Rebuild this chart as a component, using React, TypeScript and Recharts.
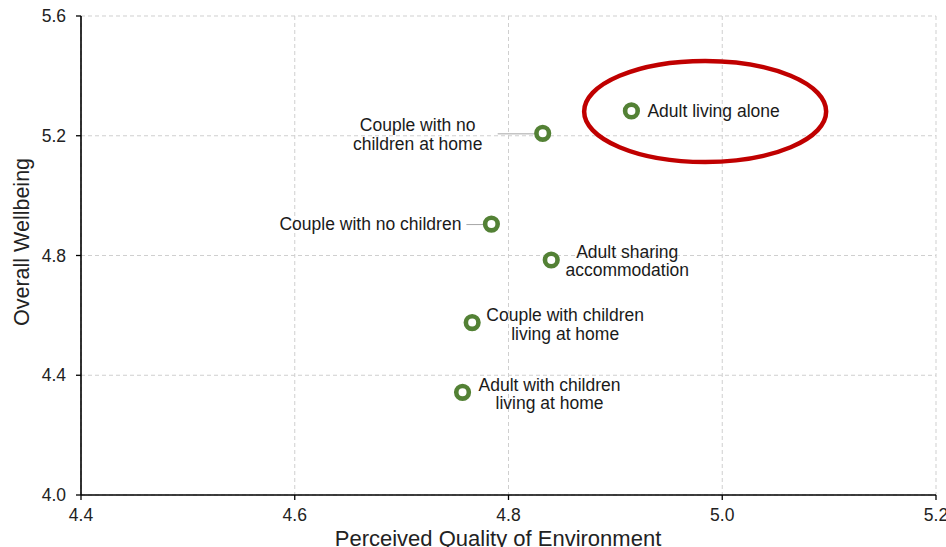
import React from 'react';
import { ScatterChart, Scatter, XAxis, YAxis, CartesianGrid, ReferenceDot, Label } from 'recharts';

const categories = [
  'Adult living alone',
  'Couple with no children at home',
  'Couple with no children',
  'Adult sharing accommodation',
  'Couple with children living at home',
  'Adult with children living at home',
];
const labelLines: string[][] = [
  ['Adult living alone'],
  ['Couple with no', 'children at home'],
  ['Couple with no children'],
  ['Adult sharing', 'accommodation'],
  ['Couple with children', 'living at home'],
  ['Adult with children', 'living at home'],
];
const environment = [4.915, 4.832, 4.784, 4.840, 4.766, 4.757];
const wellbeing = [5.283, 5.208, 4.905, 4.785, 4.576, 4.343];
const xTicks = [4.4, 4.6, 4.8, 5.0, 5.2];
const yTicks = [4.0, 4.4, 4.8, 5.2, 5.6];
const highlight = { x: 4.984, y: 5.281 };

const data = categories.map((name, i) => ({
  name,
  lines: labelLines[i],
  x: environment[i],
  y: wellbeing[i],
}));

// label layout (offsets relative to the marker, px)
const LAYOUT: Record<string, { dx: number; dy: number[]; anchor: 'start' | 'middle' | 'end'; leader?: [number, number] }> = {
  'Adult living alone': { dx: 16, dy: [6], anchor: 'start' },
  'Couple with no children at home': { dx: -125, dy: [-2.5, 16.2], anchor: 'middle', leader: [-45, -8] },
  'Couple with no children': { dx: -30, dy: [6], anchor: 'end', leader: [-25, -8] },
  'Adult sharing accommodation': { dx: 76, dy: [-2, 16.5], anchor: 'middle' },
  'Couple with children living at home': { dx: 93, dy: [-1.7, 17.2], anchor: 'middle' },
  'Adult with children living at home': { dx: 87, dy: [-1.3, 16.9], anchor: 'middle' },
};

const FONT = "Arial, 'Liberation Sans', sans-serif";
const GREEN = '#538135';

const PointShape = (props: any) => {
  const { cx, cy, payload } = props;
  const lay = LAYOUT[payload.name];
  return (
    <g>
      {lay.leader && (
        <line x1={cx + lay.leader[0]} y1={cy + 0.5} x2={cx + lay.leader[1]} y2={cy + 0.5} stroke="#a6a6a6" strokeWidth={1} />
      )}
      <circle cx={cx} cy={cy} r={6.3} fill="#fff" stroke={GREEN} strokeWidth={4.6} />
      {payload.lines.map((t: string, i: number) => (
        <text key={i} x={cx + lay.dx} y={cy + lay.dy[i]} textAnchor={lay.anchor} fontSize={17.5} fontFamily={FONT} fill="#1a1a1a">
          {t}
        </text>
      ))}
    </g>
  );
};

const EllipseShape = (props: any) => (
  <ellipse cx={props.cx} cy={props.cy} rx={121} ry={50.5} fill="none" stroke="#c00000" strokeWidth={4.5} />
);

export default function App() {
  return (
    <div style={{ position: 'absolute', left: 0, top: 0 }}>
      <ScatterChart width={946} height={547} margin={{ top: 16, right: 10, bottom: 0, left: 0 }}>
        <CartesianGrid strokeDasharray="4 3" stroke="#cfcfcf" />
        <XAxis
          type="number"
          dataKey="x"
          domain={[4.4, 5.2]}
          ticks={xTicks}
          tickFormatter={(v: number) => v.toFixed(1)}
          height={52}
          axisLine={{ stroke: '#000', strokeWidth: 1.6 }}
          tickLine={{ stroke: '#000', strokeWidth: 1.3 }}
          tickSize={5}
          tickMargin={9}
          tick={{ fill: '#222', fontSize: 17.5, fontFamily: FONT }}
          interval={0}
        >
          <Label
            content={() => (
              <text x={498} y={546} textAnchor="middle" fontSize={22} fontFamily={FONT} fill="#222">
                Perceived Quality of Environment
              </text>
            )}
          />
        </XAxis>
        <YAxis
          type="number"
          dataKey="y"
          domain={[4.0, 5.6]}
          ticks={yTicks}
          tickFormatter={(v: number) => v.toFixed(1)}
          width={81}
          axisLine={{ stroke: '#000', strokeWidth: 1.6 }}
          tickLine={{ stroke: '#000', strokeWidth: 1.3 }}
          tickSize={5}
          tickMargin={10}
          tick={{ fill: '#222', fontSize: 17.5, fontFamily: FONT }}
          interval={0}
        >
          <Label
            content={() => (
              <text transform="translate(29,242) rotate(-90)" textAnchor="middle" fontSize={21.5} fontFamily={FONT} fill="#222">
                Overall Wellbeing
              </text>
            )}
          />
        </YAxis>
        <ReferenceDot x={highlight.x} y={highlight.y} shape={EllipseShape} />
        <Scatter data={data} shape={PointShape} isAnimationActive={false} />
      </ScatterChart>
    </div>
  );
}
